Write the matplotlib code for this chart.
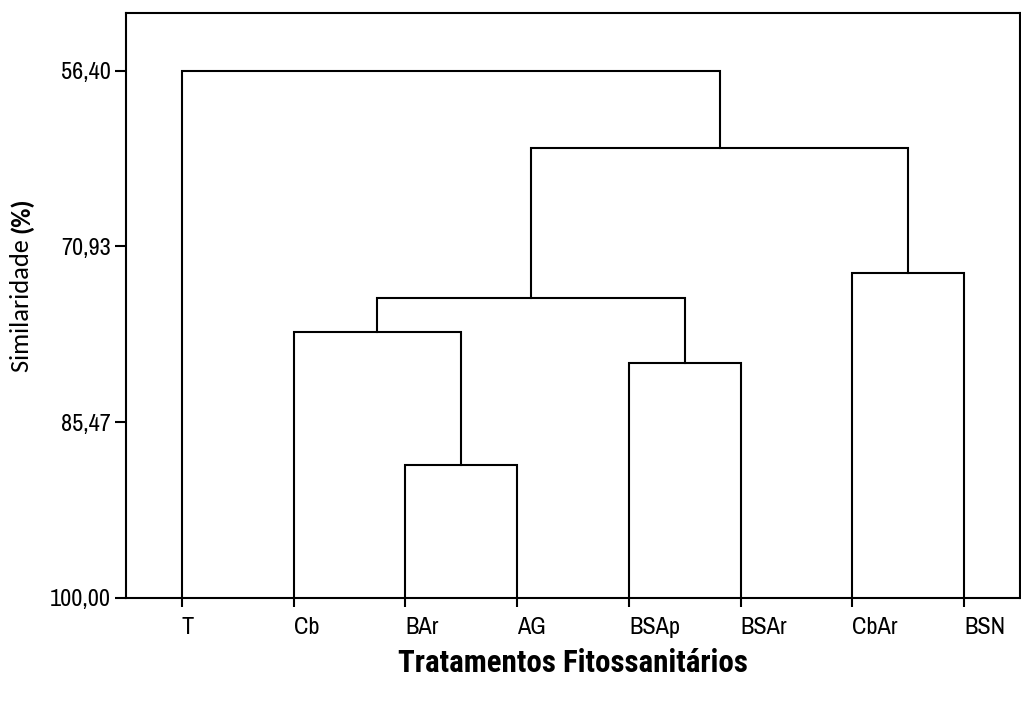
import numpy as np
import matplotlib
matplotlib.use('Agg')
import matplotlib.pyplot as plt

# leaves in plotting order
leaves = ['T', 'Cb', 'BAr', 'AG', 'BSAp', 'BSAr', 'CbAr', 'BSN']

# merges: (child a, child b, similarity %) ; new clusters get ids 8, 9, ...
merge_a = [2, 1, 4, 9, 6, 11, 0]
merge_b = [3, 8, 5, 10, 7, 12, 13]
merge_h = [89.00, 78.03, 80.57, 75.17, 73.13, 62.79, 56.40]

yticks = [56.40, 70.93, 85.47, 100.00]
ytick_labels = ['56,40', '70,93', '85,47', '100,00']

narrow = ['Archivo Narrow', 'PT Sans Narrow', 'DejaVu Sans']
narrow_bold = ['Roboto Condensed', 'PT Sans Narrow', 'DejaVu Sans']
calib = ['Carlito', 'DejaVu Sans']

W, H = 1021, 702
fig = plt.figure(figsize=(W / 100, H / 100), dpi=100)
ax = fig.add_axes([126 / W, 1 - 598 / H, 894 / W, 585 / H])

# positions of each node
pos_x = {i: i + 1 for i in range(len(leaves))}
pos_y = {i: 100.0 for i in range(len(leaves))}
for k, (a, b, h) in enumerate(zip(merge_a, merge_b, merge_h)):
    node = len(leaves) + k
    ax.plot([pos_x[a], pos_x[a], pos_x[b], pos_x[b]],
            [pos_y[a], h, h, pos_y[b]], color='black', lw=1.5,
            solid_joinstyle='miter')
    pos_x[node] = (pos_x[a] + pos_x[b]) / 2
    pos_y[node] = h

ax.set_xlim(0.5, 8.5)
ax.set_ylim(100, 51.63)

ax.set_xticks(range(1, len(leaves) + 1))
ax.set_xticklabels(leaves, ha='left', family=narrow, fontsize=17.5)
ax.set_yticks(yticks)
ax.set_yticklabels(ytick_labels, family=narrow, fontsize=17.5)

ax.tick_params(axis='x', length=6.5, width=1.5, pad=7)
ax.tick_params(axis='y', length=8, width=1.5, pad=3)
for s in ax.spines.values():
    s.set_linewidth(1.5)

fig.text(0.5612, 1 - 663 / H, 'Tratamentos Fitossanitários', ha='center',
         va='center', family=narrow_bold, fontsize=22.3, fontweight='bold')

# y label: regular part + bold (%)
t1 = fig.text(29 / W, 1 - 372 / H, 'Similaridade ', rotation=90,
              rotation_mode='anchor', ha='left', va='baseline',
              family=calib, fontsize=19)
fig.canvas.draw()
bb = t1.get_window_extent()
fig.text(29 / W, bb.y1 / H, '(%)', rotation=90, rotation_mode='anchor',
         ha='left', va='baseline', family=calib, fontsize=19,
         fontweight='bold')

plt.savefig('out.png', dpi=100)
